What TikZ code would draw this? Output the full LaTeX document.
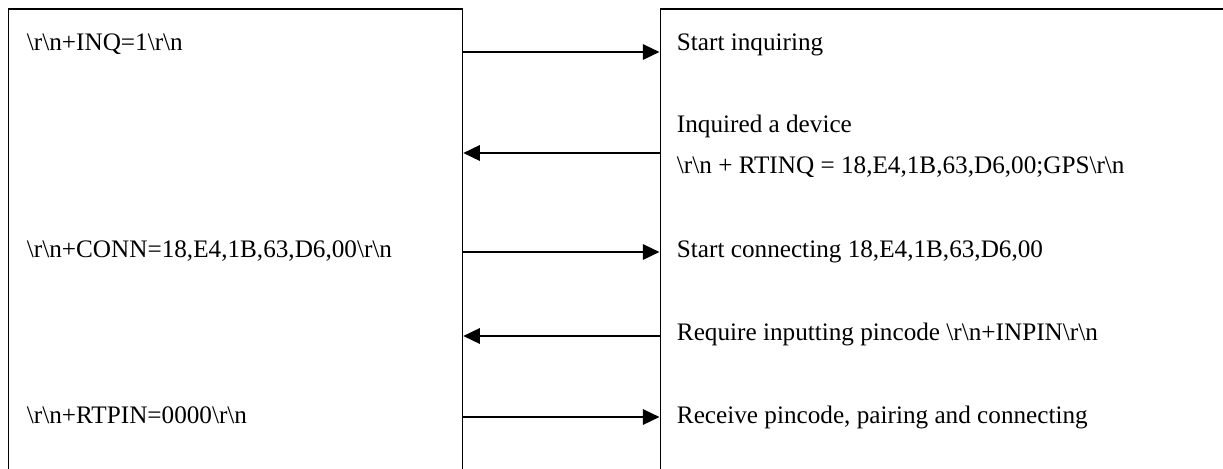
\documentclass[tikz,border=0pt]{standalone}
\usepackage{fontspec}
\setmainfont{Liberation Serif}
\usetikzlibrary{arrows.meta,positioning}
\newcommand{\atrn}{\textbackslash r\textbackslash n}

\begin{document}
\begin{tikzpicture}[x=0.75pt,y=-0.75pt,font=\fontsize{18.9}{22}\selectfont,
      unit/.style={draw,line width=1.3pt,inner sep=0pt,anchor=north west,minimum height=380pt},
      msg/.style={anchor=base west,inner sep=0pt},
      call/.style={-{Triangle[length=12.5pt,width=11.5pt]},line width=1.8pt}]
    \useasboundingbox (0,0) rectangle (1223,468);
    \clip (0,0) rectangle (1223,468);
    % the two sides
    \node[unit,minimum width=340.5pt] (host) at (7.5,8) {};
    \node[unit,minimum width=480pt] (bt) at (659.5,8) {};
    % host commands
    \node[msg] (h1) at (26.7,50.5) {\atrn+INQ=1\atrn};
    \node[msg] (h3) at (26.7,257) {\atrn+CONN=18,E4,1B,63,D6,00\atrn};
    \node[msg] (h5) at (26.7,423) {\atrn+RTPIN=0000\atrn};
    % module responses
    \node[msg] (b1) at (676.7,50.5) {Start inquiring};
    \node[msg] (b2) at (676.7,132) {Inquired a device};
    \node[msg] (b2r) at (676.7,173) {\atrn{} + RTINQ = 18,E4,1B,63,D6,00;GPS\atrn};
    \node[msg] (b3) at (676.7,257) {Start connecting 18,E4,1B,63,D6,00};
    \node[msg] (b4) at (676.7,340) {Require inputting pincode \atrn+INPIN\atrn};
    \node[msg] (b5) at (676.7,423) {Receive pincode, pairing and connecting};
    % message rows
    \foreach \y [count=\i] in {52,153,252,336,417}
      \coordinate (row\i) at (0,\y);
    \foreach \s/\t/\i in {host.east/bt.west/1,bt.west/host.east/2,host.east/bt.west/3,bt.west/host.east/4,host.east/bt.west/5}
      \draw[call] (\s |- row\i) -- (\t |- row\i);
  \end{tikzpicture}
\end{document}
